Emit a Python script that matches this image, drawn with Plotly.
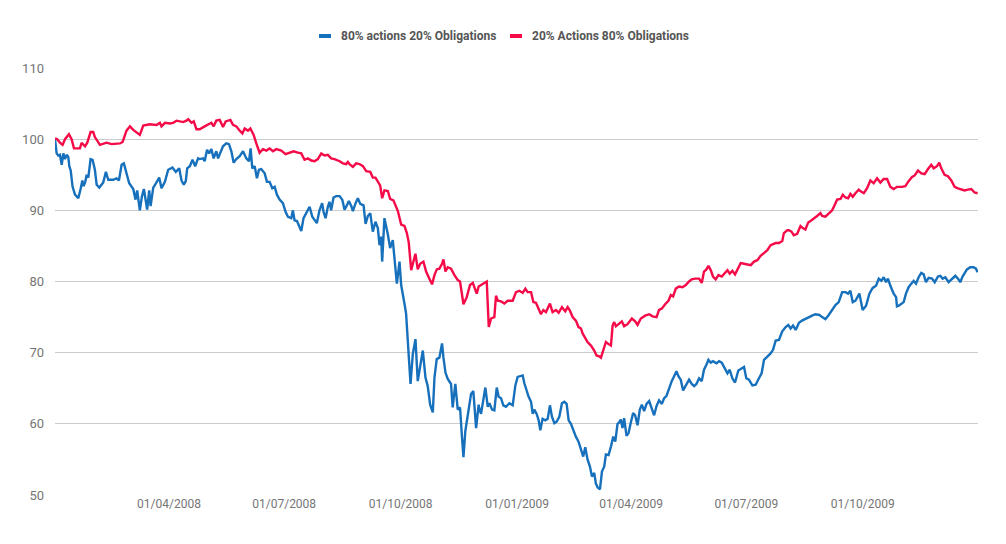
import pandas as pd
import plotly.graph_objects as go

start_date = "2008-01-02"

# Series 1 : 80% actions 20% Obligations (days since start, value)
blue_days = [0, 1.3, 2.6, 3.9, 5.3, 6.6, 7.9, 9.2, 10.5, 11.3, 12.4, 13.9, 15.8, 18.4, 20.2, 21.6, 22.6, 23.9, 25, 26.3,
             28.1, 29.7, 31.5, 32.9, 35, 38.1, 40.2, 42.1, 46, 48.6, 50.5, 52.6, 54.4, 56.5, 58.6, 61.8, 63.6, 64.9, 67, 68.6,
             70.2, 72.8, 74.4, 75.5, 77.6, 79.7, 82.3, 84.1, 86.8, 89.4, 92.8, 95.4, 98.1, 99.9, 101.7, 103.3, 104.4, 106.5, 108.6, 110.7,
             113, 114.3, 116.9, 118.2, 120.1, 121.7, 123.5, 125.3, 127.4, 128.8, 130.6, 132.7, 135.3, 137.4, 139.3, 141.1, 143.2, 145.9, 148.5, 151.1,
             153.2, 154.5, 155.8, 157.7, 159.5, 161.1, 162.9, 165.6, 167.4, 169.5, 171.6, 173.5, 175.3, 177.4, 180, 182.1, 184, 186.6, 187.9, 189.2,
             191.1, 192.6, 194.5, 196.3, 199, 201.1, 203.2, 205, 206.8, 208.9, 211, 212.1, 213.7, 215.5, 216.8, 218.1, 220, 222.1,
             224.8, 226.9, 228.7, 230.5, 232.1, 234, 235.3, 237.4, 239.2, 241.1, 243.7, 245.3, 247.1, 249, 251, 253.1, 255, 256.3, 257.6, 258.4,
             260.2, 262.9, 264.7, 266.8, 268.1, 270, 272.1, 273.4, 276, 277.3, 278.7, 280.8, 282.6, 284.7, 286.5, 288.4, 290.5, 292.6, 294.4, 296.3,
             298.4, 299.7, 301.5, 303.6, 305.7, 306.8, 308.4, 310.2, 312.8, 314.1, 316.2, 318.1, 319.9, 321.5, 322.6, 324.1, 326.8, 328.6, 330.4, 332.6,
             334.6, 335.2, 336.5, 338.4, 339.9, 341.8, 343.1, 345.2, 347, 348.9, 350.4, 352.3, 354.1, 356.2, 358.9, 361.5, 363.6, 365.4, 367.3, 369.4,
             370.7, 372.5, 374.1, 376, 377.3, 378.6, 380.4, 382, 383.3, 385.1, 387.3, 389.1, 390.9, 392.5, 394.4, 396.2, 398.3, 400.4, 402.3, 404.1,
             405.7, 407.5, 409.3, 411.4, 413.5, 415.4, 417.2, 418.8, 420.6, 422.5, 424.1, 425.9, 427.2, 428.5, 430.4, 432, 433.8, 435.1, 437.2, 439.1,
             440.9, 442.5, 444.3, 445.6, 446.9, 448.2, 449.5, 451.4, 453, 454.8, 456.6, 458.2, 460.1, 461.9, 463.5, 465.3, 467.2, 469.3, 471.4, 473.2,
             475.1, 477.1, 479.3, 481.1, 482.9, 485, 487.1, 489, 490.8, 492.4, 494.2, 496.1, 498.2, 500.8, 502.9, 504.8, 506.6, 508.7, 510.8, 512.6,
             514.5, 516.1, 517.9, 519.7, 522.4, 524.5, 526.6, 529.2, 531.1, 532.9, 535, 537.1, 539.7, 541.6, 544.2, 546, 548.1, 550.8, 553.4, 556,
             558.1, 560, 562.6, 565.2, 567.1, 569.2, 571.8, 574.4, 577.1, 579.2, 581, 582.9, 585, 587.6, 590, 593, 595.4, 598, 600.6, 603.8,
             605.9, 608.5, 611.1, 613.8, 616.4, 619, 621.7, 624.3, 626.4, 628.2, 630.1, 632.2, 635.3, 637.9, 640.6, 643.2, 645.8, 648.5, 650.6, 652.7,
             654.5, 656.4, 657.9, 659.8, 662.4, 664.3, 665, 666.4, 668.5, 670.3, 672.1, 674.2, 676.3, 678.2, 680, 682.1, 684.2, 686.1, 687.9, 690,
             692.7, 694.8, 697.4, 699.2, 701.1, 703.2, 705.8, 708.4, 711.1, 713.2, 715, 716.8, 720.3, 722.9, 725.5, 727.4, 728.7]
blue_vals = [100, 98, 97.7, 97.8, 96.4, 98, 97.2, 97.8, 97.5, 96.2, 95.6, 93.3, 92.2, 91.7, 93, 94.2, 93.4, 94, 95, 94.6,
             97.2, 97.1, 95.7, 93.6, 93.2, 93.9, 95.4, 94.3, 94.3, 94.5, 94.2, 96.4, 96.6, 95, 93.8, 93, 91.5, 92.8, 90, 91.9,
             93, 90.1, 92.8, 90.6, 93.2, 93.8, 94.6, 93.1, 94, 95.7, 96, 95.4, 95.9, 94.2, 93.6, 94.1, 95.9, 96.2, 97.1, 96.2,
             97.3, 97.2, 97.3, 96.9, 98.5, 98, 98.6, 97.3, 98.3, 97.3, 98, 99, 99.4, 99.3, 98.3, 96.7, 97.2, 97.6, 98.3, 97.3,
             96.9, 98.7, 95.9, 96.2, 94.5, 95.7, 95.8, 95.2, 94, 94, 93.1, 93.3, 92.2, 91.5, 91, 89.8, 89.1, 88.9, 90, 88.6,
             88.5, 87.9, 87.1, 88.9, 89.8, 90.5, 89.1, 88.6, 88.2, 90, 91, 89.8, 88.9, 90.5, 91.2, 90, 91.8, 92,
             92, 91.5, 90.1, 90.7, 91.3, 90.6, 89.9, 91, 91.7, 90.9, 90.7, 88.1, 89.2, 89.6, 87, 88.4, 87.5, 85.1, 86.3, 82.8,
             88.9, 86.6, 84.7, 85.8, 83, 79.7, 82.8, 79.5, 76.9, 75.5, 71.5, 65.6, 69.8, 71.9, 66, 68.2, 70.3, 66.5, 65.3, 62.7,
             61.6, 66.5, 69.1, 69.3, 71.3, 69.3, 67.2, 66.3, 65.6, 62.3, 65.6, 62, 62.3, 58, 55.3, 59, 61.8, 64.2, 64.6, 59.4,
             62.7, 62.1, 61.4, 63.8, 65.1, 62.4, 62.9, 62, 61.9, 65.1, 63.8, 63.6, 62.6, 62.4, 62.9, 62.6, 65.4, 66.6, 66.7, 66.8,
             65.7, 64.5, 63.8, 63.1, 61.4, 62, 61.4, 60.5, 59.1, 60.7, 60.5, 60.7, 62.6, 61, 60.1, 60.3, 61, 62.9, 63.1, 62.8,
             60.5, 60, 59.1, 58.2, 57.5, 56.3, 55.4, 56.7, 55, 54, 52.6, 53.1, 51.6, 51.1, 50.8, 53.3, 54, 55.7, 55.6, 56.8,
             58.2, 57.5, 60, 60.2, 60.6, 59.4, 60.8, 58.3, 58.7, 60.2, 61.5, 61.2, 59.8, 62, 62.7, 61.8, 62.8, 63.2, 62.1, 61.2,
             62.5, 63.3, 62.8, 63.6, 63.9, 65, 66, 66.7, 67.4, 66.7, 66.2, 64.7, 65.3, 66.2, 65.6, 65.3, 65.6, 66.4, 66, 67.6,
             68.3, 69, 68.6, 68.8, 68.5, 68.8, 68.6, 67.8, 67.1, 67.6, 66.4, 65.8, 67.5, 67.7, 68, 66.4, 66.2, 65.4, 65.5, 66.4,
             67.1, 69, 69.4, 69.9, 70.4, 71.7, 71.8, 73, 73.6, 73.9, 73.4, 73.8, 73.2, 74.2, 74.5, 74.8, 75, 75.2, 75.4, 75.3,
             75, 74.7, 75.3, 76, 76.7, 77.1, 78.5, 78.5, 78.3, 78.7, 77.1, 77.3, 78.3, 76, 76.6, 78.3, 79.1, 79.4, 80.4, 80.1,
             80.6, 79.9, 80.4, 79.4, 78.3, 77.8, 76.5, 76.6, 76.9, 77.1, 78.3, 79.2, 79.7, 80.1, 79.7, 80.6, 81.2, 81, 79.9, 80.5,
             80.4, 79.9, 80.7, 80.8, 80.4, 80.6, 79.9, 80.4, 80.8, 80.4, 79.9, 80.7, 81.7, 82, 82, 81.8, 81.3]

# Series 2 : 20% Actions 80% Obligations
red_days = [0, 1.8, 3.9, 6, 7.9, 11, 13.1, 15, 19.7, 21, 23.7, 25.5, 28.1, 30.2, 31.5, 34.2, 35.5, 40.7, 44.7, 51.3,
            53.4, 56.5, 59.2, 61.8, 64.9, 67, 69.7, 74.9, 80.2, 82.8, 84.1, 86.8, 90.7, 93.3, 96, 101.2, 103.8, 105.2, 107.8, 109.6,
            111.7, 114.3, 118.2, 120.9, 123.5, 125.3, 127.4, 130.1, 132.7, 134.8, 138.5, 140.6, 143.2, 145.9, 148, 149.8, 152.4, 154.3, 156.9, 159,
            161.6, 164.3, 166.9, 169.5, 172.1, 174.8, 178.7, 182.1, 185.3, 188.4, 191.9, 194.5, 197.1, 199.7, 202.4, 205, 207.6, 210.3, 212.9, 215.5,
            218.1, 220.8, 224.8, 227.4, 230, 231.3, 232.6, 235.3, 237.9, 240.5, 243.2, 245.8, 249, 251, 253.1, 255, 256.8, 258.4, 260.2, 262.9,
            264.7, 267.3, 269.4, 270.8, 273.4, 276, 277.9, 279.4, 281.3, 283.1, 284.7, 286.5, 288.4, 291, 293.1, 295.7, 297.8, 299.7, 301.5, 303.6,
            305.7, 306.8, 308.4, 310.2, 312.8, 315.5, 318.1, 319.9, 322.6, 325.2, 327.8, 330, 333.1, 334.6, 337.8, 341, 342.6, 344.4, 347, 348.3,
            349.7, 352.3, 354.9, 357.5, 361.5, 364.1, 366.8, 369.4, 371.5, 373.3, 376, 377.8, 379.9, 382, 383.8, 385.7, 387.8, 390.9, 393, 395.7,
            397.8, 400.4, 403, 404.9, 406.7, 408.8, 411.4, 413.5, 415.4, 416.7, 418.8, 420.6, 423.3, 425.9, 427.7, 429.8, 431.2, 433, 435.1, 437.2,
            439.1, 440.4, 441.7, 443, 445.6, 447.7, 449.5, 452.2, 455.6, 458.2, 460.1, 462.7, 466.1, 469.3, 471.9, 475.1, 477.1, 479.3, 481.9, 484.5,
            486.4, 488.2, 490.3, 492.9, 495.6, 498.2, 500.8, 502.9, 505.5, 508.7, 510.8, 512.6, 514.5, 516.1, 517.9, 519.7, 521.8, 524, 526.6, 529.2,
            531.1, 532.9, 535, 537.1, 539.7, 541.6, 544.2, 546.8, 549.5, 552.1, 554.7, 557.3, 560, 562.6, 565.2, 567.1, 569.2, 571.8, 574.4, 575.7,
            578.4, 579.6, 581.7, 583.5, 586.2, 588.8, 590.6, 592.7, 594.9, 597.5, 600.1, 601.9, 604.6, 605.9, 608.5, 611.1, 613.8, 615.9, 617.7, 620.4,
            622.2, 624.3, 626.4, 628.2, 630.1, 632.2, 634.8, 636.9, 638.8, 641.4, 644, 646.6, 649.3, 651.9, 654.5, 657.2, 659.8, 662.4, 665.1, 669,
            671.6, 674.2, 676.9, 679, 681.6, 684.3, 686.9, 689.5, 692.1, 694, 696.6, 698.4, 700, 702.6, 705.3, 707.9, 710.5, 713.2, 715.8, 718.4,
            721, 723.7, 726.3, 728.7]
red_vals = [100.1, 100, 99.5, 99.2, 100, 100.7, 100, 98.7, 98.7, 99.5, 99, 99.5, 101, 101, 100.3, 99.6, 99.2, 99.5, 99.3, 99.4,
            99.6, 101.2, 101.8, 101.3, 100.8, 100.6, 101.9, 102.1, 102, 102.3, 101.8, 102.3, 102.2, 102.3, 102.6, 102.4, 102.6, 102.8, 102.3, 102.5,
            101.4, 101.4, 101.8, 102, 102.3, 101.8, 102.6, 102.7, 101.7, 102.5, 102.7, 102, 101.8, 101.2, 100.8, 101.5, 101.2, 101.5, 100.6, 99.4,
            98.1, 98.6, 98.4, 98.7, 98.3, 98.6, 98.4, 97.9, 98.1, 98.3, 98.1, 98, 97.1, 97.3, 97, 96.9, 97.2, 98, 97.7, 97.8,
            97.3, 97.2, 96.9, 96.6, 96.5, 96.8, 96.5, 96.1, 96.6, 96.5, 96.2, 95.5, 95.4, 94.6, 94.6, 94.1, 93.5, 91.7, 92.8, 92.7,
            91.6, 91.4, 90.6, 89.9, 88, 87.8, 86.8, 85.5, 81.6, 82.8, 83.9, 81.7, 82.5, 82.8, 81.4, 80.4, 79.6, 80.9, 81.7, 81.8,
            82.5, 83.1, 81.4, 82, 81.8, 80.9, 80.2, 80, 76.8, 77.8, 79.5, 79.8, 78.3, 79.3, 79.7, 80, 73.6, 74.8, 75, 78,
            77.3, 77.2, 76.9, 77.3, 77.3, 78.5, 78.7, 78.4, 79, 78.5, 78.5, 77.1, 77, 76.2, 75.4, 76, 75.7, 76.9, 75.7, 76,
            75.6, 76.4, 75.8, 76.4, 75.9, 75, 74.5, 73.6, 73.4, 72.7, 72, 71.5, 71, 70.3, 69.6, 69.5, 69.3, 70.3, 71.5, 71.2,
            71, 73.8, 74.3, 73.7, 74.1, 74.4, 73.7, 74, 74.8, 74.4, 73.9, 74.8, 75.2, 75.4, 75.1, 75, 76, 76.2, 76.8, 77.3,
            78.1, 77.9, 79, 79.3, 79.2, 79.5, 80, 80.3, 80.4, 80.4, 79.8, 81.4, 81.7, 82.2, 81.6, 80.7, 80.3, 80.9, 80.7, 81.2,
            81.6, 81.1, 81.5, 81, 82, 82.6, 82.5, 82.4, 82.3, 82.8, 83, 83.6, 84, 84.4, 85.1, 85.2, 85.4, 85.4, 85.7, 86.8,
            87.2, 87.2, 87, 86.5, 86.7, 87.8, 87.5, 87.3, 88.3, 88.6, 88.9, 89.2, 89.6, 89.2, 89.1, 89.6, 90, 90.8, 91.5, 91.6,
            92.2, 91.8, 91.7, 92.3, 91.9, 92.4, 92.9, 92.6, 92.4, 93.1, 94.2, 93.8, 94.5, 93.9, 94.4, 94.4, 93.3, 93, 93.3, 93.3,
            93.4, 94.1, 94.7, 94.9, 95.6, 95.2, 95.1, 95.8, 96.4, 95.9, 96.2, 96.7, 95.9, 95, 94.8, 94.2, 93.3, 93.1, 92.9, 92.8,
            92.9, 93, 92.5, 92.4]

series_names = ["80% actions 20% Obligations", "20% Actions 80% Obligations"]
series_colors = ["#1670BC", "#F40B48"]

tick_dates = ["2008-04-01", "2008-07-01", "2008-10-01", "2009-01-01", "2009-04-01", "2009-07-01", "2009-10-01"]
tick_labels = ["01/04/2008", "01/07/2008", "01/10/2008", "01/01/2009", "01/04/2009", "01/07/2009", "01/10/2009"]
y_ticks = [50, 60, 70, 80, 90, 100, 110]

t0 = pd.Timestamp(start_date)
blue_x = t0 + pd.to_timedelta(blue_days, unit="D")
red_x = t0 + pd.to_timedelta(red_days, unit="D")

fig = go.Figure()
fig.add_trace(go.Scatter(x=blue_x, y=blue_vals, mode="lines", name=series_names[0],
                         line=dict(color=series_colors[0], width=2.4)))
fig.add_trace(go.Scatter(x=red_x, y=red_vals, mode="lines", name=series_names[1],
                         line=dict(color=series_colors[1], width=2.4)))

# Custom legend (short thick markers, as in the reference)
W, L, B, T = 1006, 55, 495, 68
pw, ph = 978 - L, B - T
leg_y = (B - 36) / ph
shapes, annots = [], []
for (sx0, sx1, tx), name, col in zip([(319, 331, 339), (510, 522, 530)], series_names, series_colors):
    shapes.append(dict(type="line", xref="paper", yref="paper", x0=(sx0 - L) / pw, x1=(sx1 - L) / pw,
                       y0=leg_y, y1=leg_y, line=dict(color=col, width=4)))
    annots.append(dict(xref="paper", yref="paper", x=(tx - L) / pw, y=leg_y, xanchor="left", yanchor="middle",
                       text=name, showarrow=False,
                       font=dict(family="Roboto", size=12, color="#555555", weight="bold")))

fig.update_layout(
    width=1006, height=544,
    margin=dict(l=55, r=28, t=68, b=49),
    paper_bgcolor="white", plot_bgcolor="white",
    font=dict(family="Roboto", color="#757575"),
    showlegend=False,
    shapes=shapes, annotations=annots,
    xaxis=dict(range=[t0, t0 + pd.Timedelta(days=729)], tickvals=pd.to_datetime(tick_dates), ticktext=tick_labels,
               showgrid=False, zeroline=False, showline=False, ticks="",
               tickfont=dict(family="Roboto", size=12, color="#757575")),
    yaxis=dict(range=[50, 110], tickvals=y_ticks, showgrid=True, gridcolor="#cccccc", gridwidth=1,
               zeroline=False, showline=False, ticks="", ticklabelstandoff=10,
               tickfont=dict(family="Roboto", size=13, color="#757575")),
)

fig.write_html("out.html", config={"displayModeBar": False},
               post_script="document.body.style.margin='0';")
